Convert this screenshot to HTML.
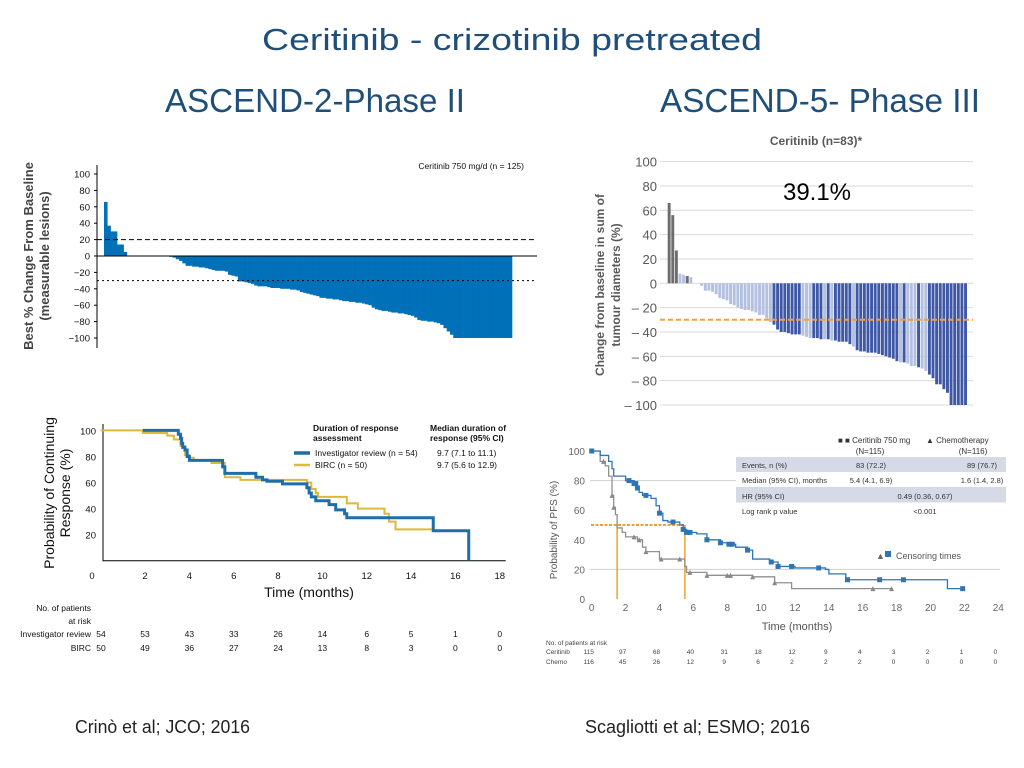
<!DOCTYPE html>
<html><head><meta charset="utf-8"><style>
html,body{margin:0;padding:0;background:#fff;}
svg{display:block;font-family:"Liberation Sans",sans-serif;}
</style></head><body>
<svg id="s" width="1024" height="768" viewBox="0 0 1024 768" xmlns="http://www.w3.org/2000/svg">
<text x="262" y="50" font-size="31" fill="#1f4e79" textLength="500" lengthAdjust="spacingAndGlyphs">Ceritinib - crizotinib pretreated</text>
<text x="165" y="112" font-size="33" fill="#1f4e79" textLength="300" lengthAdjust="spacingAndGlyphs">ASCEND-2-Phase II</text>
<text x="660" y="112" font-size="33" fill="#1f4e79" textLength="320" lengthAdjust="spacingAndGlyphs">ASCEND-5- Phase III</text>
<text x="75" y="733" font-size="18" fill="#222" textLength="175" lengthAdjust="spacingAndGlyphs">Crinò et al; JCO; 2016</text>
<text x="585" y="733" font-size="18" fill="#222" textLength="225" lengthAdjust="spacingAndGlyphs">Scagliotti et al; ESMO; 2016</text>
<g id="c1"></g>
<g id="c2"></g>
<g id="c3"></g>
<g id="c4"></g>
</svg>
<script>
// ---- data ----
const wf1Values = [66,37,30,30,14,14,5,0,0,0,0,0,0,0,0,0,0,0,0,0,-1,-2,-4,-6,-9,-12,-12,-13,-13,-14,-14,-15,-16,-17,-18,-18,-18,-19,-23,-24,-25,-31,-31,-32,-33,-34,-36,-37,-37,-37,-38,-39,-39,-39,-40,-40,-40,-41,-41,-42,-44,-45,-46,-47,-48,-49,-51,-51,-52,-52,-53,-53,-54,-55,-55,-56,-56,-57,-57,-58,-59,-60,-63,-65,-66,-67,-67,-68,-69,-69,-70,-70,-71,-72,-73,-75,-78,-79,-79,-80,-80,-81,-82,-84,-88,-92,-96,-100,-100,-100,-100,-100,-100,-100,-100,-100,-100,-100,-100,-100,-100,-100,-100,-100,-100];
const wf1Ticks = [100,80,60,40,20,0,-20,-40,-60,-80,-100];
const wf2Values = [66,56,27,8,7,6,5,0,0,-2,-6,-6,-7,-9,-12,-13,-14,-17,-18,-20,-21,-22,-22,-23,-24,-26,-26,-29,-32,-34,-38,-40,-40,-41,-42,-42,-42,-43,-44,-45,-45,-45,-46,-46,-46,-47,-47,-48,-48,-48,-50,-52,-55,-56,-56,-57,-57,-57,-58,-59,-60,-61,-62,-64,-65,-65,-66,-68,-68,-69,-70,-72,-75,-78,-83,-83,-87,-90,-100,-100,-100,-100,-100];
const wf2Cats = "gggllglllllllllllllllllllllllddddddddllldddldldddddlddddddddddddldllldllddddddddddd";
const wf2Ticks = [100,80,60,40,20,0,-20,-40,-60,-80,-100];
const invSteps = [[1.9,100],[3.5,97],[3.6,94],[3.65,90],[3.7,87],[3.8,85],[3.9,80],[4.0,77],[5.5,72],[5.6,67],[7.0,64],[7.3,62],[7.5,61],[8.2,59],[9.3,56],[9.4,52],[9.5,49],[9.7,46],[10.3,43],[10.6,39],[11.0,36],[11.1,33],[15.0,23],[16.6,0]];
const bircSteps = [[0,100],[1.9,98],[3.0,96],[3.3,93],[3.6,88],[3.8,81],[4.0,79],[4.2,77],[5.0,75],[5.6,64],[6.3,62],[9.3,60],[9.5,55],[9.7,52],[9.8,49],[11.1,44],[11.6,40],[12.8,36],[13.0,30],[13.3,24],[15.0,24]];
const km1XTicks = [0,2,4,6,8,10,12,14,16,18];
const km1YTicks = [100,80,60,40,20];
const riskInv = [54,53,43,33,26,14,6,5,1,0];
const riskBirc = [50,49,36,27,24,13,8,3,0,0];
const ceriSteps = [[0,100],[0.5,97],[1,93],[1.2,88],[1.3,83],[2,80],[2.5,78],[2.7,75],[2.8,72],[3,70],[3.5,68],[3.8,63],[4,58],[4.2,53],[4.5,52],[5.2,50],[5.4,47],[5.6,45],[6.2,44],[6.8,40],[7.6,38],[8,37],[8.5,35],[9.2,33],[9.5,27],[10.5,25],[11,22],[12,21],[13.8,20],[14,17],[15,13],[21,7],[22,7]];
const ceriCens = [0,2.2,2.5,2.6,2.7,3.2,4.0,4.8,5.4,5.6,5.8,6.8,7.6,8.1,8.3,9.2,10.6,11,11.8,13.4,15.1,17,18.4,21.9];
const chemoSteps = [[0,100],[0.5,93],[0.8,90],[1,83],[1.2,70],[1.3,62],[1.4,57],[1.5,48],[1.8,45],[2,42],[2.7,40],[3,35],[3.2,32],[4,27],[5.5,22],[5.6,18],[6.8,16],[9.5,15],[10.8,11],[11.8,7],[17.7,7]];
const chemoCens = [0.7,1.2,1.3,2.5,2.8,3.2,4.1,5.2,5.8,6.8,8,8.2,9.5,10.8,16.6,17.7];
const km2XTicks = [0,2,4,6,8,10,12,14,16,18,20,22,24];
const km2YTicks = [100,80,60,40,20,0];
const riskCeri = [115,97,68,40,31,18,12,9,4,3,2,1,0];
const riskChemo = [116,45,26,12,9,6,2,2,2,0,0,0,0];
const medians = [1.5,5.5];

const NS="http://www.w3.org/2000/svg";
function mk(parent,tag,attrs,txt){const e=document.createElementNS(NS,tag);for(const k in attrs)e.setAttribute(k,attrs[k]);if(txt!==undefined)e.textContent=txt;parent.appendChild(e);return e;}
function stepPath(steps,X,Y){let d="M"+X(steps[0][0])+","+Y(steps[0][1]);for(let i=1;i<steps.length;i++){d+=" H"+X(steps[i][0])+" V"+Y(steps[i][1]);}return d;}
function survAt(steps,t){let v=steps[0][1];for(const s of steps){if(s[0]<=t)v=s[1];}return v;}

// ---- chart 1 ----
(function(){
const g=document.getElementById('c1');
const Y=v=>256-v*0.82; const X0=104, bw=(512-104)/wf1Values.length;
wf1Values.forEach((v,i)=>{if(v===0)return;const r=mk(g,'rect',{x:X0+i*bw,y:Math.min(Y(v),Y(0)),width:bw+0.3,height:Math.abs(Y(v)-Y(0)),fill:'#0070b8'});

});
let a=mk(g,'line',{x1:97,y1:165,x2:97,y2:348,stroke:'#000','stroke-width':1});

a=mk(g,'line',{x1:97,y1:Y(0),x2:537,y2:Y(0),stroke:'#000','stroke-width':1});

a=mk(g,'line',{x1:97,y1:Y(20),x2:537,y2:Y(20),stroke:'#000','stroke-width':1,'stroke-dasharray':'5,3'});

a=mk(g,'line',{x1:97,y1:Y(-30),x2:537,y2:Y(-30),stroke:'#000','stroke-width':1,'stroke-dasharray':'2,3'});

wf1Ticks.forEach(t=>{const e=mk(g,'text',{x:90,y:Y(t)+3.5,'font-size':9.5,'text-anchor':'end',fill:'#111'},t===0?'0':(t<0?'\u2212'+(-t):t));

const l=mk(g,'line',{x1:94,y1:Y(t),x2:97,y2:Y(t),stroke:'#000'});});
let t=mk(g,'text',{x:524,y:169,'font-size':8.5,'text-anchor':'end',fill:'#111'},'Ceritinib 750 mg/d (n = 125)');

t=mk(g,'text',{transform:'translate(33,256) rotate(-90)','font-size':13,'font-weight':'bold','text-anchor':'middle',fill:'#444'},'Best % Change From Baseline');

t=mk(g,'text',{transform:'translate(49,256) rotate(-90)','font-size':13,'font-weight':'bold','text-anchor':'middle',fill:'#444'},'(measurable lesions)');

})();

// ---- chart 2 ----
(function(){
const g=document.getElementById('c2');
const Y=v=>283.3-v*1.217; const X0=667.7, bw=(967.7-667.7)/wf2Values.length;
wf2Ticks.forEach(t=>{const l=mk(g,'line',{x1:660,y1:Y(t),x2:973,y2:Y(t),stroke:'#d9d9d9'});

const e=mk(g,'text',{x:657,y:Y(t)+5,'font-size':13,'text-anchor':'end',fill:'#595959'},t<0?'\u2013 '+(-t):String(t));
});
const col={g:'#6d6d6d',l:'#b4c0e0',d:'#3f58a6'};
wf2Values.forEach((v,i)=>{if(v===0)return;const r=mk(g,'rect',{x:X0+i*bw,y:Math.min(Y(v),Y(0)),width:bw-0.7,height:Math.abs(Y(v)-Y(0)),fill:col[wf2Cats[i]]});

});
let a=mk(g,'line',{x1:660,y1:Y(-30),x2:973,y2:Y(-30),stroke:'#f0a040','stroke-width':2,'stroke-dasharray':'5,3'});

let t=mk(g,'text',{x:817,y:200,'font-size':24,'text-anchor':'middle',fill:'#000'},'39.1%');

t=mk(g,'text',{x:816,y:145,'font-size':12,'font-weight':'bold','text-anchor':'middle',fill:'#595959'},'Ceritinib (n=83)*');

t=mk(g,'text',{transform:'translate(604,285) rotate(-90)','font-size':12,'font-weight':'bold','text-anchor':'middle',fill:'#595959'},'Change from baseline in sum of');

t=mk(g,'text',{transform:'translate(620,285) rotate(-90)','font-size':12,'font-weight':'bold','text-anchor':'middle',fill:'#595959'},'tumour diameters (%)');

})();

// ---- chart 3 ----
(function(){
const g=document.getElementById('c3');
const X=m=>100.7+m*22.17, Y=v=>560.7-v*1.303;
let a=mk(g,'polyline',{points:'103,424 103,560.7 505.7,560.7',fill:'none',stroke:'#000','stroke-width':1});

km1YTicks.forEach(t=>{const e=mk(g,'text',{x:96,y:Y(t)+4,'font-size':9.5,'text-anchor':'end',fill:'#111'},String(t));
});
km1XTicks.forEach(t=>{const e=mk(g,'text',{x:t===0?92:X(t),y:579,'font-size':9.5,'text-anchor':'middle',fill:'#111'},String(t));
});
let p=mk(g,'path',{d:stepPath(bircSteps,X,Y),fill:'none',stroke:'#dcb93c','stroke-width':2});

p=mk(g,'path',{d:stepPath(invSteps,X,Y),fill:'none',stroke:'#1f6ea8','stroke-width':3});

const lg=[['Duration of response',313,431,'bold'],['assessment',313,441,'bold'],['Median duration of',430,431,'bold'],['response (95% CI)',430,441,'bold'],['Investigator review (n = 54)',315,456,'normal'],['9.7 (7.1 to 11.1)',437,456,'normal'],['BIRC (n = 50)',315,468,'normal'],['9.7 (5.6 to 12.9)',437,468,'normal']];
lg.forEach(r=>{const e=mk(g,'text',{x:r[1],y:r[2],'font-size':8.5,'font-weight':r[3],fill:'#111'},r[0]);
});
let s=mk(g,'line',{x1:294,y1:453,x2:310,y2:453,stroke:'#1f6ea8','stroke-width':3.5});

s=mk(g,'line',{x1:294,y1:465,x2:310,y2:465,stroke:'#dcb93c','stroke-width':2.5});

let t=mk(g,'text',{x:309,y:597,'font-size':14,'text-anchor':'middle',fill:'#111'},'Time (months)');

t=mk(g,'text',{transform:'translate(54,493) rotate(-90)','font-size':14,'text-anchor':'middle',fill:'#111'},'Probability of Continuing');

t=mk(g,'text',{transform:'translate(70,493) rotate(-90)','font-size':14,'text-anchor':'middle',fill:'#111'},'Response (%)');

[['No. of patients',611],['at risk',624],['Investigator review',637],['BIRC',651]].forEach(r=>{const e=mk(g,'text',{x:91,y:r[1],'font-size':8.5,'text-anchor':'end',fill:'#111'},r[0]);
});
riskInv.forEach((v,i)=>{const e=mk(g,'text',{x:i===0?101:X(km1XTicks[i]),y:637,'font-size':8.5,'text-anchor':'middle',fill:'#111'},String(v));
});
riskBirc.forEach((v,i)=>{const e=mk(g,'text',{x:i===0?101:X(km1XTicks[i]),y:651,'font-size':8.5,'text-anchor':'middle',fill:'#111'},String(v));
});
})();

// ---- chart 4 ----
(function(){
const g=document.getElementById('c4');
const X=m=>591.7+m*16.94, Y=v=>599-v*1.48;
[80,20].forEach(v=>{const l=mk(g,'line',{x1:590,y1:Y(v),x2:1000,y2:Y(v),stroke:'#d0d0d0'});
});
km2YTicks.forEach(t=>{const e=mk(g,'text',{x:585,y:Y(t)+4,'font-size':10,'text-anchor':'end',fill:'#666'},String(t));
});
km2XTicks.forEach(t=>{const e=mk(g,'text',{x:X(t),y:611,'font-size':10,'text-anchor':'middle',fill:'#666'},String(t));
});
// table
[[457,'#d6dae6'],[472,'#fff'],[487,'#d6dae6'],[503,'#fff']].forEach(r=>{const e=mk(g,'rect',{x:736,y:r[0],width:270,height:15.5,fill:r[1]});
});
const cells=[['Events, n (%)',742,468,'start'],['83 (72.2)',871,468,'middle'],['89 (76.7)',982,468,'middle'],['Median (95% CI), months',742,483,'start'],['5.4 (4.1, 6.9)',871,483,'middle'],['1.6 (1.4, 2.8)',982,483,'middle'],['HR (95% CI)',742,499,'start'],['0.49 (0.36, 0.67)',925,499,'middle'],['Log rank p value',742,514,'start'],['<0.001',925,514,'middle']];
cells.forEach(c=>{const e=mk(g,'text',{x:c[1],y:c[2],'font-size':7.5,'text-anchor':c[3],fill:'#333'},c[0]);
});
[['\u25A0 \u25A0 Ceritinib 750 mg',838,443,'start'],['(N=115)',870,454,'middle'],['\u25B2 Chemotherapy',926,443,'start'],['(N=116)',973,454,'middle']].forEach(c=>{const e=mk(g,'text',{x:c[1],y:c[2],'font-size':8,'text-anchor':c[3],fill:'#333'},c[0]);
});
// median lines
const mi=[survAt(chemoSteps,medians[0]),survAt(ceriSteps,medians[1])];
let a=mk(g,'line',{x1:591,y1:Y(50),x2:X(medians[1]),y2:Y(50),stroke:'#f0a030','stroke-width':2,'stroke-dasharray':'3,1.5'});

medians.forEach(m=>{const l=mk(g,'line',{x1:X(m),y1:Y(50),x2:X(m),y2:Y(0),stroke:'#f0a030','stroke-width':1.5});
});
let p=mk(g,'path',{d:stepPath(chemoSteps,X,Y),fill:'none',stroke:'#909090','stroke-width':1.3});

p=mk(g,'path',{d:stepPath(ceriSteps,X,Y),fill:'none',stroke:'#2e75b6','stroke-width':1.3});

chemoCens.forEach(m=>{const x=X(m),y=Y(survAt(chemoSteps,m));const e=mk(g,'polygon',{points:`${x-2.5},${y+2.5} ${x+2.5},${y+2.5} ${x},${y-2.5}`,fill:'#888'});
});
ceriCens.forEach(m=>{const x=X(m),y=Y(survAt(ceriSteps,m));const e=mk(g,'rect',{x:x-2.5,y:y-2.5,width:5,height:5,fill:'#2e75b6'});
});
let t=mk(g,'text',{x:876,y:559,'font-size':9,fill:'#666'},'\u25B2');

t=mk(g,'rect',{x:885,y:551,width:6,height:6,fill:'#2e75b6'});

t=mk(g,'text',{x:896,y:559,'font-size':9,fill:'#555'},'Censoring times');

t=mk(g,'text',{x:797,y:630,'font-size':11,'text-anchor':'middle',fill:'#555'},'Time (months)');

t=mk(g,'text',{transform:'translate(557,530) rotate(-90)','font-size':10,'text-anchor':'middle',fill:'#555'},'Probability of PFS (%)');

[['No. of patients at risk',645],['Ceritinib',654],['Chemo',664]].forEach(r=>{const e=mk(g,'text',{x:546,y:r[1],'font-size':6.5,fill:'#444'},r[0]);
});
riskCeri.forEach((v,i)=>{const e=mk(g,'text',{x:X(km2XTicks[i])-3,y:654,'font-size':6.5,'text-anchor':'middle',fill:'#444'},String(v));
});
riskChemo.forEach((v,i)=>{const e=mk(g,'text',{x:X(km2XTicks[i])-3,y:664,'font-size':6.5,'text-anchor':'middle',fill:'#444'},String(v));
});
})();
</script>
</body></html>
